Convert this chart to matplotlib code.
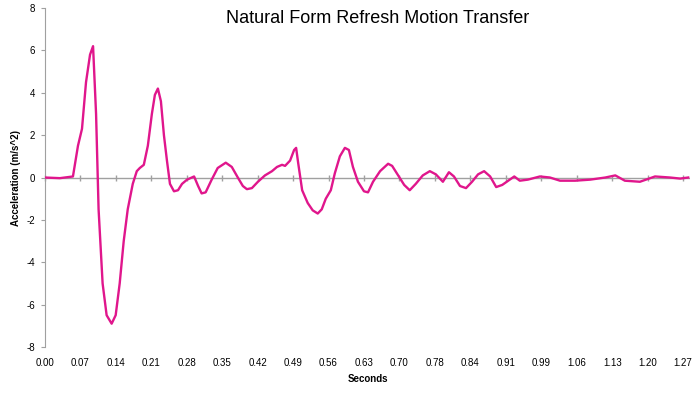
import numpy as np
import matplotlib
matplotlib.use("Agg")
import matplotlib.pyplot as plt

plt.rcParams["font.family"] = ["Liberation Sans", "DejaVu Sans"]

# acceleration trace (seconds, m/s^2)
t = [0.000, 0.030, 0.056, 0.066, 0.074, 0.082, 0.090, 0.096, 0.102, 0.107, 0.115, 0.123,
     0.133, 0.141, 0.149, 0.157, 0.165, 0.175, 0.183, 0.189, 0.197, 0.205, 0.213, 0.219,
     0.225, 0.231, 0.237, 0.243, 0.249, 0.257, 0.265, 0.273, 0.283, 0.297, 0.305, 0.312,
     0.320, 0.332, 0.344, 0.360, 0.372, 0.384, 0.394, 0.402, 0.412, 0.424, 0.438, 0.452,
     0.462, 0.472, 0.478, 0.488, 0.496, 0.500, 0.504, 0.512, 0.523, 0.533, 0.543, 0.551,
     0.559, 0.569, 0.577, 0.587, 0.597, 0.605, 0.613, 0.623, 0.635, 0.643, 0.653, 0.667,
     0.683, 0.691, 0.703, 0.715, 0.726, 0.738, 0.752, 0.766, 0.778, 0.792, 0.804, 0.814,
     0.826, 0.838, 0.850, 0.862, 0.874, 0.886, 0.898, 0.910, 0.922, 0.934, 0.945, 0.961,
     0.985, 1.005, 1.025, 1.055, 1.085, 1.115, 1.135, 1.154, 1.184, 1.214, 1.244, 1.264, 1.280]
accel = [0.0, -0.03, 0.05, 1.5, 2.3, 4.5, 5.8, 6.2, 3.0, -1.5, -5.0, -6.5,
         -6.9, -6.5, -5.0, -3.0, -1.5, -0.3, 0.3, 0.45, 0.6, 1.5, 3.0, 3.9,
         4.2, 3.6, 2.0, 0.8, -0.3, -0.65, -0.6, -0.3, -0.1, 0.05, -0.4, -0.75,
         -0.7, -0.1, 0.45, 0.7, 0.5, 0.0, -0.4, -0.55, -0.5, -0.2, 0.1, 0.3,
         0.5, 0.6, 0.55, 0.8, 1.3, 1.4, 0.7, -0.6, -1.2, -1.55, -1.7, -1.5,
         -1.0, -0.6, 0.2, 1.0, 1.4, 1.3, 0.5, -0.2, -0.65, -0.7, -0.2, 0.3,
         0.65, 0.55, 0.1, -0.35, -0.6, -0.3, 0.1, 0.3, 0.15, -0.2, 0.25, 0.05,
         -0.4, -0.5, -0.2, 0.15, 0.3, 0.05, -0.45, -0.35, -0.15, 0.05, -0.15, -0.1,
         0.05, 0.0, -0.15, -0.15, -0.1, 0.0, 0.1, -0.15, -0.2, 0.05, 0.0, -0.05, 0.0]

tick_labels = ["0.00", "0.07", "0.14", "0.21", "0.28", "0.35", "0.42", "0.49", "0.56", "0.63",
               "0.70", "0.78", "0.84", "0.91", "0.99", "1.06", "1.13", "1.20", "1.27"]
y_ticks = [-8, -6, -4, -2, 0, 2, 4, 6, 8]

fig = plt.figure(figsize=(7, 4.03), dpi=100)
ax = fig.add_axes([0.064, 0.139, 0.922, 0.841])

ax.plot(t, accel, color="#e0168c", lw=1.7, solid_joinstyle="round", zorder=3)

ax.set_xlim(0, 1.284)
ax.set_ylim(-8, 8)
tick_pos = np.linspace(0, 1.27, len(tick_labels))
ax.set_xticks(tick_pos)
ax.set_xticklabels(tick_labels, fontsize=7)
ax.tick_params(axis="x", length=0, pad=8)
ax.set_yticks(y_ticks)
ax.set_yticklabels([str(v) for v in y_ticks], fontsize=7)
ax.tick_params(axis="y", length=3, color="#a0a0a0", pad=4)

for s in ["top", "right", "bottom"]:
    ax.spines[s].set_visible(False)
ax.spines["left"].set_color("#a0a0a0")
ax.axhline(0, color="#a0a0a0", lw=1, zorder=1)
ax.plot(tick_pos, np.zeros(len(tick_pos)), ls="none", marker="|", ms=5,
        color="#a0a0a0", zorder=1, clip_on=False)

ax.set_xlabel("Seconds", fontsize=7, fontweight="bold")
ax.set_ylabel("Acceleration (m/s^2)", fontsize=7, fontweight="bold")
fig.text(0.54, 0.955, "Natural Form Refresh Motion Transfer", ha="center", va="center",
         fontsize=13)

fig.savefig("out.png", dpi=100)
